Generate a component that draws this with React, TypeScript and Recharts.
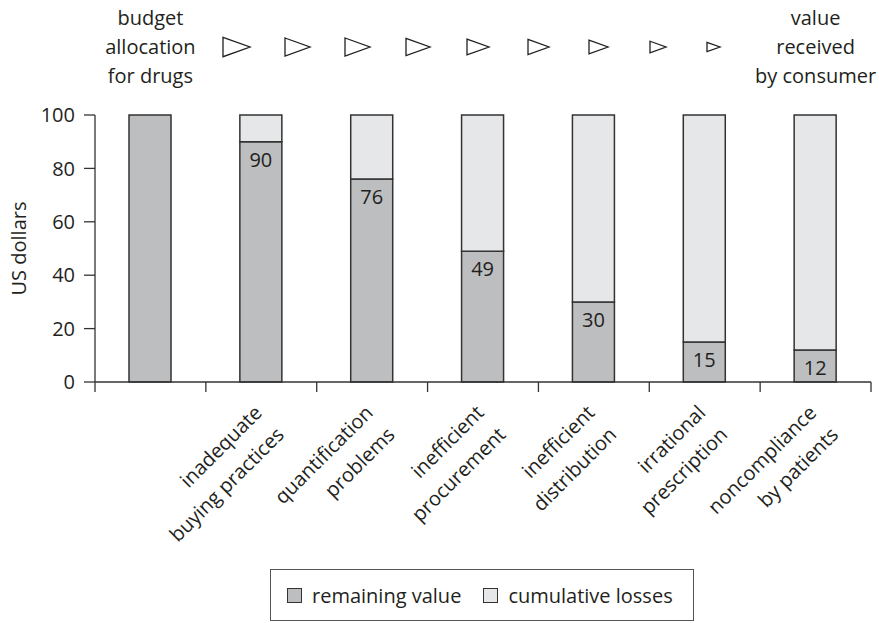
import { BarChart, Bar, XAxis, YAxis, Legend, LabelList } from 'recharts'

const FONT = '"Open Sans", sans-serif'
const INK = '#231f20'

const categories = ['budget', 'buying', 'quantification', 'procurement', 'distribution', 'prescription', 'noncompliance']
const categoryLines = [
  [],
  ['inadequate', 'buying practices'],
  ['quantification', 'problems'],
  ['inefficient', 'procurement'],
  ['inefficient', 'distribution'],
  ['irrational', 'prescription'],
  ['noncompliance', 'by patients'],
]
const remaining = [100, 90, 76, 49, 30, 15, 12]
const losses = [0, 10, 24, 51, 70, 85, 88]
const yTicks = [0, 20, 40, 60, 80, 100]
const headerStart = ['budget', 'allocation', 'for drugs']
const headerEnd = ['value', 'received', 'by consumer']
const legendNames = ['remaining value', 'cumulative losses']
const legendColors = ['#bcbec0', '#e6e7e8']
// arrow glyphs between the header texts: left edge and width
const arrowLeft = [223, 285, 345, 406, 467, 528, 589, 650, 707]
const arrowWidth = [27, 25, 25, 24, 22, 21, 19, 16, 13]

const data = categories.map((c, i) => ({ name: c, remaining: remaining[i], losses: losses[i] }))

// category label, rotated 45deg, plus tick marks on the band edges
function CategoryTick(props: any) {
  const { x, y, payload, index } = props
  const half = payload && payload.offset ? payload.offset : 55.4
  const lines = categoryLines[index] || []
  const last = index === categories.length - 1
  const header = index === 0 ? headerStart : last ? headerEnd : null
  return (
    <g>
      <line x1={x - half} y1={y} x2={x - half} y2={y + 10} stroke="#333" strokeWidth={1.3} />
      {last && <line x1={x + half} y1={y} x2={x + half} y2={y + 10} stroke="#333" strokeWidth={1.3} />}
      {lines.length > 0 && (
        <text
          transform={`translate(${x + 2},${y + 32}) rotate(-45)`}
          textAnchor="end"
          fontFamily={FONT}
          fontSize={20}
          fill={INK}
        >
          {lines.map((l, i) => (
            <tspan key={i} x={0} dy={i === 0 ? 0 : 31}>{l}</tspan>
          ))}
        </text>
      )}
      {header &&
        header.map((h, i) => (
          <text key={h} x={x} y={y - 357 + i * 29} textAnchor="middle" fontFamily={FONT} fontSize={20} fill={INK}>
            {h}
          </text>
        ))}
    </g>
  )
}

function ValueLabel(props: any) {
  const { x, y, width, value } = props
  if (value >= 100) return null
  return (
    <text x={x + width / 2} y={y + 25} textAnchor="middle" fontFamily={FONT} fontSize={20} fill={INK}>
      {value}
    </text>
  )
}

function LegendBox() {
  return (
    <div
      style={{
        width: 424,
        height: 52,
        boxSizing: 'border-box',
        border: '1.5px solid #555',
        display: 'flex',
        alignItems: 'center',
        paddingLeft: 16,
        fontFamily: FONT,
        fontSize: 20,
        color: INK,
      }}
    >
      {legendNames.map((n, i) => (
        <span key={n} style={{ display: 'flex', alignItems: 'center', marginLeft: i === 0 ? 0 : 22 }}>
          <span
            style={{
              display: 'inline-block',
              width: 15,
              height: 15,
              boxSizing: 'border-box',
              border: '1.5px solid #333',
              background: legendColors[i],
              marginRight: 10,
            }}
          />
          {n}
        </span>
      ))}
    </div>
  )
}

export default function App() {
  return (
    <div style={{ position: 'absolute', left: 0, top: 0, width: 879, height: 623, background: '#fff' }}>
      <BarChart width={879} height={623} data={data} margin={{ top: 115, right: 8, left: 0, bottom: 0 }}>
        <XAxis
          dataKey="name"
          height={241}
          interval={0}
          tickLine={false}
          tickSize={0}
          tickMargin={0}
          axisLine={{ stroke: '#333', strokeWidth: 1.3 }}
          tick={<CategoryTick />}
        />
        <YAxis
          width={95}
          domain={[0, 100]}
          ticks={yTicks}
          tickSize={11}
          tickMargin={9}
          axisLine={{ stroke: '#333', strokeWidth: 1.3 }}
          tickLine={{ stroke: '#333', strokeWidth: 1.3 }}
          tick={{ fontFamily: FONT, fontSize: 20, fill: INK }}
          label={(p: any) => {
            const vb = p.viewBox || { y: 115, height: 267 }
            const cy = vb.y + vb.height / 2
            return (
              <text
                transform={`translate(26,${cy}) rotate(-90)`}
                textAnchor="middle"
                fontFamily={FONT}
                fontSize={20}
                fill={INK}
              >
                US dollars
              </text>
            )
          }}
        />
        <Legend
          layout="horizontal"
          verticalAlign="middle"
          align="center"
          wrapperStyle={{ left: 270, top: 569, width: 424 }}
          content={<LegendBox />}
        />
        <Bar
          dataKey="remaining"
          name={legendNames[0]}
          stackId="a"
          barSize={42}
          fill={legendColors[0]}
          stroke="#333"
          strokeWidth={1.5}
          isAnimationActive={false}
        >
          <LabelList dataKey="remaining" content={<ValueLabel />} />
        </Bar>
        <Bar
          dataKey="losses"
          name={legendNames[1]}
          stackId="a"
          barSize={42}
          fill={legendColors[1]}
          stroke="#333"
          strokeWidth={1.5}
          isAnimationActive={false}
        />
      </BarChart>
      <svg width={879} height={100} style={{ position: 'absolute', left: 0, top: 0, pointerEvents: 'none' }}>
        {arrowLeft.map((l, i) => {
          const w = arrowWidth[i]
          const h = w * 0.72
          return (
            <polygon
              key={i}
              points={`${l},${47 - h / 2} ${l + w},47 ${l},${47 + h / 2}`}
              fill="none"
              stroke={INK}
              strokeWidth={1.3}
            />
          )
        })}
      </svg>
    </div>
  )
}
